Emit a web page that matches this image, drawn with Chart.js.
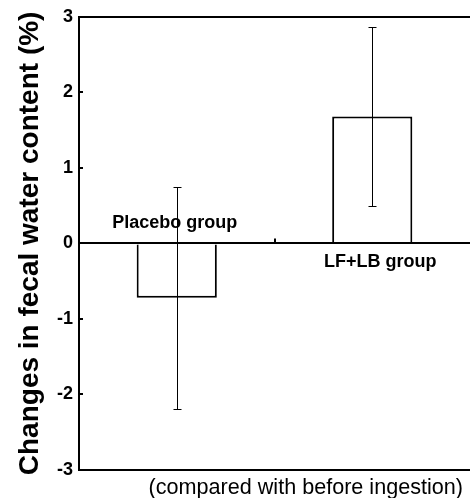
<!DOCTYPE html>
<html>
<head>
<meta charset="utf-8">
<script src="https://cdn.jsdelivr.net/npm/chart.js@4/dist/chart.umd.min.js"></script>
<style>
  html, body { margin: 0; padding: 0; background: #fff; }
  #wrap { width: 470px; height: 498px; position: relative; }
</style>
</head>
<body>
<div id="wrap"><canvas id="c"></canvas></div>
<script>
const categories = ['Placebo group', 'LF+LB group'];
const means = [-0.72, 1.68];
const sds = [1.47, 1.18];
const yTicks = [-3, -2, -1, 0, 1, 2, 3];
const yTitle = 'Changes in fecal water content (%)';
const footNote = '(compared with before ingestion)';
const FONT = "'Liberation Sans', Arial, Helvetica, sans-serif";

const overlay = {
  id: 'overlay',
  afterDatasetsDraw(chart) {
    const { ctx, scales: { x, y }, chartArea } = chart;
    ctx.save();
    const y0 = y.getPixelForValue(0);
    // zero line on top of the bars
    ctx.strokeStyle = '#000';
    ctx.lineWidth = 2;
    ctx.beginPath();
    ctx.moveTo(chartArea.left, Math.round(y0));
    ctx.lineTo(chartArea.right, Math.round(y0));
    ctx.stroke();
    // error bars
    ctx.lineWidth = 1;
    means.forEach((m, i) => {
      const cx = Math.round(x.getPixelForValue(i)) + 0.5;
      const yt = Math.round(y.getPixelForValue(m + sds[i])) + 0.5;
      const yb = Math.round(y.getPixelForValue(m - sds[i])) + 0.5;
      ctx.beginPath();
      ctx.moveTo(cx, yt); ctx.lineTo(cx, yb);
      ctx.moveTo(cx - 4, yt); ctx.lineTo(cx + 4, yt);
      ctx.moveTo(cx - 4, yb); ctx.lineTo(cx + 4, yb);
      ctx.stroke();
    });
    // inward tick marks on y axis
    ctx.lineWidth = 2;
    yTicks.forEach(v => {
      const py = Math.round(y.getPixelForValue(v));
      ctx.beginPath();
      ctx.moveTo(chartArea.left, py);
      ctx.lineTo(chartArea.left + 4, py);
      ctx.stroke();
    });
    // small tick on zero line between categories
    const mid = Math.round((x.getPixelForValue(0) + x.getPixelForValue(1)) / 2);
    ctx.beginPath();
    ctx.moveTo(mid, y0);
    ctx.lineTo(mid, y0 - 5);
    ctx.stroke();
    // group labels
    ctx.fillStyle = '#000';
    ctx.font = 'bold 18px ' + FONT;
    ctx.textAlign = 'center';
    ctx.textBaseline = 'alphabetic';
    ctx.fillText(categories[0], x.getPixelForValue(0) - 2, y0 - 15);
    ctx.fillText(categories[1], x.getPixelForValue(1) + 8, y0 + 24);
    // foot note
    ctx.font = '21.6px ' + FONT;
    ctx.textAlign = 'right';
    ctx.fillText(footNote, 463, 494);
    ctx.restore();
  }
};

new Chart(document.getElementById('c'), {
  type: 'bar',
  data: {
    labels: categories,
    datasets: [{
      data: means,
      backgroundColor: '#ffffff',
      borderColor: '#000000',
      borderWidth: 2,
      categoryPercentage: 1,
      barPercentage: 0.41
    }]
  },
  options: {
    responsive: true,
    maintainAspectRatio: false,
    animation: false,
    layout: { padding: { top: 14, right: 0, left: 0, bottom: 0 } },
    plugins: { legend: { display: false }, tooltip: { enabled: false } },
    scales: {
      x: {
        ticks: { display: false },
        grid: { display: false, drawTicks: false },
        border: { display: true, color: '#000', width: 2 },
        afterFit: s => { s.height = 28; }
      },
      y: {
        min: -3, max: 3,
        afterBuildTicks: s => { s.ticks = yTicks.map(v => ({ value: v })); },
        ticks: {
          color: '#000',
          font: { family: FONT, size: 18, weight: 'bold' },
          padding: 6,
          callback: v => String(v)
        },
        grid: {
          drawTicks: false,
          lineWidth: 2,
          color: ctx => (ctx.tick && (ctx.tick.value === 0 || ctx.tick.value === 3)) ? '#000' : 'rgba(0,0,0,0)'
        },
        border: { display: true, color: '#000', width: 2 },
        title: {
          display: true,
          text: yTitle,
          color: '#000',
          font: { family: FONT, size: 28, weight: 'bold', lineHeight: 1 },
          padding: { top: 16, bottom: 0 }
        },
        afterFit: s => { s.width = 79; }
      }
    }
  },
  plugins: [overlay]
});
</script>
</body>
</html>
